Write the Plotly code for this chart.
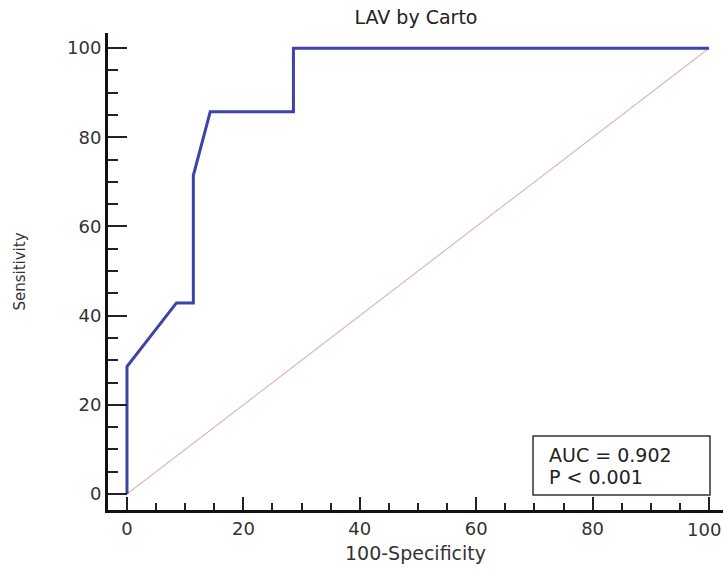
import plotly.graph_objects as go

fpr = [0, 0, 8.5, 11.4, 11.4, 14.3, 28.6, 28.6, 100]
tpr = [0, 28.57, 42.86, 42.86, 71.43, 85.71, 85.71, 100, 100]
diag_x = [0, 100]
diag_y = [0, 100]
ticks = [0, 20, 40, 60, 80, 100]
title_text = "LAV by Carto"
x_title = "100-Specificity"
y_title = "Sensitivity"
stats_lines = ["AUC = 0.902", "P < 0.001"]

FONT = "DejaVu Sans, Liberation Sans, Arial, sans-serif"
W, H = 723, 569

fig = go.Figure()
fig.add_trace(go.Scatter(x=diag_x, y=diag_y, mode="lines",
                         line=dict(color="#dcb8b8", width=1.2), showlegend=False))
fig.add_trace(go.Scatter(x=fpr, y=tpr, mode="lines",
                         line=dict(color="#3f42a8", width=3), showlegend=False))

fig.update_layout(
    width=W, height=H,
    margin=dict(l=108, r=0, t=33, b=59),
    plot_bgcolor="white", paper_bgcolor="white",
    font=dict(family=FONT, size=18, color="#333333"),
    title=dict(text=title_text, x=416 / W, xanchor="center", xref="container",
               yref="container", y=1 - 17 / H, yanchor="middle",
               font=dict(family=FONT, size=19, color="#222222")),
    xaxis=dict(range=[-3.26, 102.4], tickvals=ticks, ticks="inside", ticklen=13,
               tickwidth=2, tickcolor="#222", showline=True, linewidth=3, linecolor="#111",
               showgrid=False, zeroline=False, tickfont=dict(size=18),
               minor=dict(dtick=5, tick0=0, ticks="inside", ticklen=7, tickwidth=1.5, tickcolor="#222"),
               title=dict(text=x_title, font=dict(size=19), standoff=10)),
    yaxis=dict(range=[-3.59, 103.4], tickvals=ticks, ticks="inside", ticklen=19,
               tickwidth=2, tickcolor="#222", showline=True, linewidth=3, linecolor="#111",
               showgrid=False, zeroline=False, tickfont=dict(size=18),
               minor=dict(dtick=5, tick0=0, ticks="inside", ticklen=10, tickwidth=1.5, tickcolor="#222"),
               title=dict(text=y_title, font=dict(size=15), standoff=38)),
)
fig.add_shape(type="rect", xref="x", yref="y", x0=69.76, x1=100.17, y0=-0.22, y1=13.0,
              line=dict(color="#333", width=1.5), fillcolor="white", layer="above")
for txt, yv in zip(stats_lines, [8.74, 3.81]):
    fig.add_annotation(xref="x", yref="y", x=72.2, y=yv, xanchor="left", yanchor="middle",
                       text=txt, showarrow=False, align="left",
                       font=dict(family=FONT, size=19, color="#222"))
# last x tick label, sitting against the right edge of the page
fig.add_annotation(xref="paper", yref="paper", x=1, y=0, yshift=-19,
                   xanchor="right", yanchor="middle", text=str(ticks[-1]),
                   showarrow=False, font=dict(family=FONT, size=18, color="#333333"))
fig.write_html("out.html", config={"displayModeBar": False},
               post_script="document.body.style.margin='0';document.body.style.padding='0';")
